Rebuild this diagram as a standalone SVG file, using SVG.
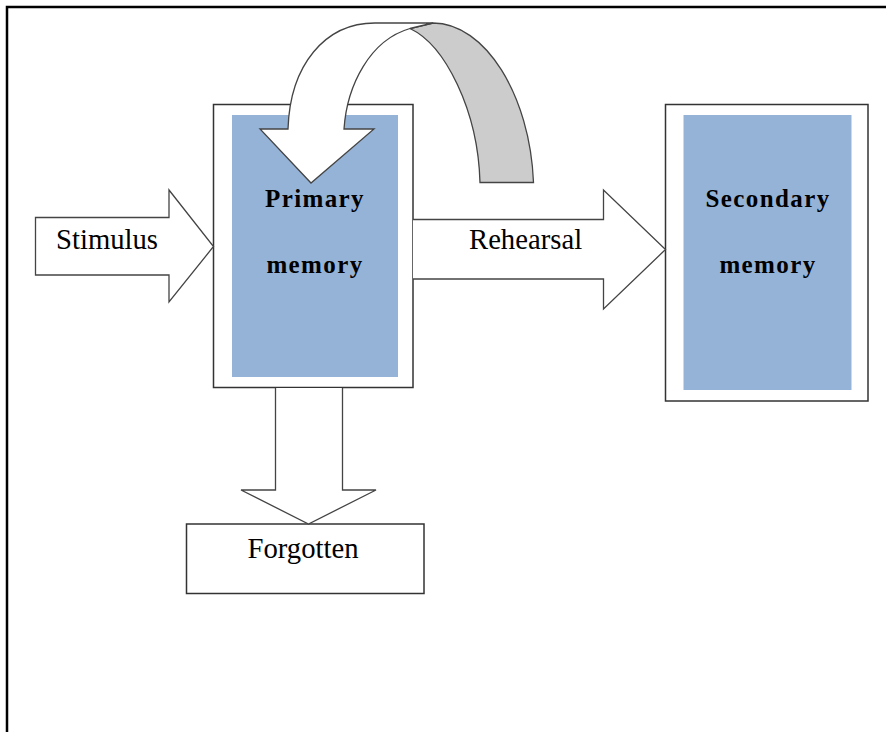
<svg xmlns="http://www.w3.org/2000/svg" width="886" height="732" viewBox="0 0 886 732">
<style>
.frame{fill:none;stroke:#000;stroke-width:2.5}
.box{fill:#fff;stroke:#333;stroke-width:1.5}
.blue{fill:#95b3d7;stroke:none}
.arrow{fill:#fff;stroke:#444;stroke-width:1.3;stroke-linejoin:miter}
.gray{fill:#cccccc;stroke:#444;stroke-width:1.3}
.lbl{font-size:28.7px;fill:#000}
.bold{font-size:25px;font-weight:bold;letter-spacing:1.4px;fill:#000;text-anchor:middle}
</style>
<rect width="886" height="732" fill="#fff"/>
<path class="frame" d="M7,733 V7 H887"/>
<g id="primary">
<rect class="box" x="213.5" y="104.5" width="199.5" height="283"/>
<rect class="blue" x="232" y="115" width="166" height="262"/>
<text class="bold" font-family="'Liberation Serif', 'DejaVu Serif', serif" x="315" y="207">Primary</text>
<text class="bold" font-family="'Liberation Serif', 'DejaVu Serif', serif" x="315" y="273">memory</text>
</g>
<g id="secondary">
<rect class="box" x="665.5" y="104.5" width="202.5" height="296.5"/>
<rect class="blue" x="683.5" y="115" width="168" height="275"/>
<text class="bold" font-family="'Liberation Serif', 'DejaVu Serif', serif" x="768" y="207">Secondary</text>
<text class="bold" font-family="'Liberation Serif', 'DejaVu Serif', serif" x="768" y="273">memory</text>
</g>
<g id="forgotten">
<rect class="box" x="186.5" y="524" width="237.5" height="69.5"/>
<text class="lbl" font-family="'Liberation Serif', 'DejaVu Serif', serif" x="247.5" y="558">Forgotten</text>
</g>
<g id="connectors">
<g id="stimulus-arrow">
<path class="arrow" d="M35.5,217.5 H169 V190 L213.5,246.5 L169,302 V275 H35.5 Z"/>
<text class="lbl" font-family="'Liberation Serif', 'DejaVu Serif', serif" x="56" y="249">Stimulus</text>
</g>
<g id="rehearsal-arrow">
<path class="arrow" d="M413,219.5 H603.5 V190 L665.5,249.5 L603.5,309 V279 H413"/>
<text class="lbl" font-family="'Liberation Serif', 'DejaVu Serif', serif" x="469" y="249">Rehearsal</text>
</g>
<g id="forgotten-arrow">
<path class="arrow" d="M275.5,388 V490 H241 L308.5,524 L376,490 H342.5 V388"/>
</g>
<g id="loop-arrow">
<path class="gray" d="M410,28.5 C445,45 478,110 480,182.5 L533.5,182.5 C530,95 485,23 433,23 Z"/>
<path class="arrow" d="M288,129 C290,65 325,23 375,23 L433,23 L410,28.5 C370,40 347,85 344,129 L374,129 L311,183 L260,129 Z"/>
</g>
</g>
</svg>
